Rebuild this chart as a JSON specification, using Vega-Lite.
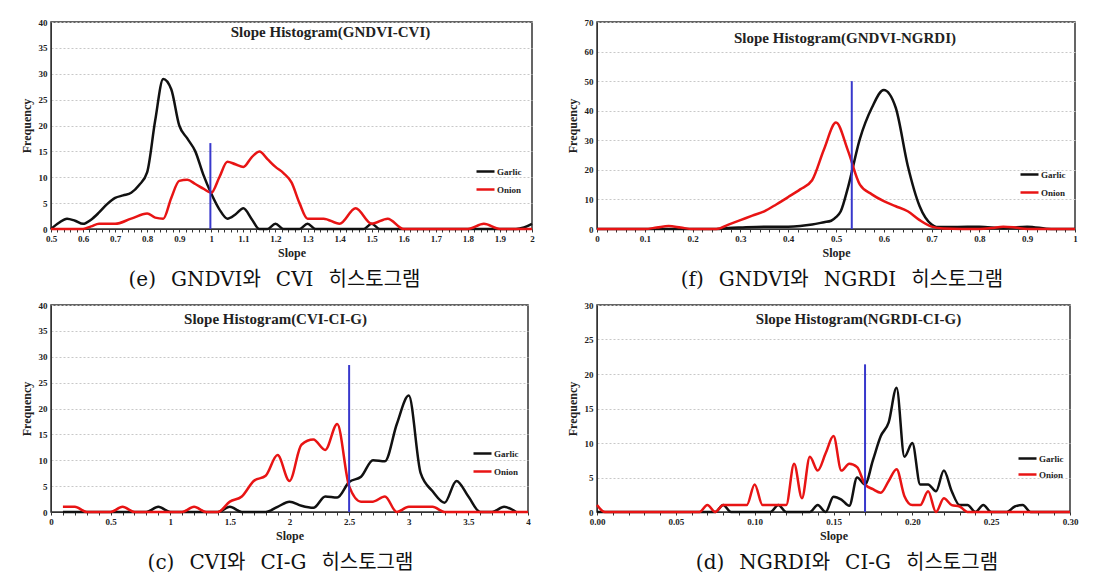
{
  "$schema": "https://vega.github.io/schema/vega-lite/v6.json",
  "background": "white",
  "padding": {"left": 19, "top": 17, "right": 5, "bottom": 5},
  "config": {
    "font": "Liberation Serif",
    "view": {"stroke": "#333333", "strokeWidth": 1.5},
    "axis": {"labelFont": "Liberation Serif, Times New Roman, serif", "labelFontWeight": "bold", "labelFontSize": 9, "labelColor": "#222222", "titleFont": "Liberation Serif, Times New Roman, serif", "titleFontWeight": "bold", "titleFontSize": 12, "titleColor": "#222222", "domainColor": "#333333", "tickColor": "#333333", "labelFlush": false, "labelOverlap": false, "tickCount": 1000},
    "axisY": {"grid": true, "gridColor": "#c8c8c8", "gridDash": [2, 2], "ticks": false, "labelPadding": 4, "titlePadding": 5, "format": "d"},
    "axisX": {"grid": false, "tickSize": 3, "labelPadding": 2, "titlePadding": 4},
    "legend": {"symbolType": "stroke", "symbolStrokeWidth": 2.5, "symbolSize": 324, "labelFont": "Liberation Serif, Times New Roman, serif", "labelFontWeight": "bold", "labelFontSize": 9, "labelColor": "#222222", "rowPadding": 2, "labelOffset": 1, "padding": 0},
    "line": {"interpolate": "monotone", "strokeWidth": 2.5, "clip": true},
    "rule": {"color": "#3838cc", "strokeWidth": 2}
  },
  "datasets": {
    "e": [
      {"crop": "Garlic", "slope": 0.5, "freq": 0}, {"crop": "Garlic", "slope": 0.525, "freq": 1.2}, {"crop": "Garlic", "slope": 0.55, "freq": 2}, {"crop": "Garlic", "slope": 0.575, "freq": 1.6}, {"crop": "Garlic", "slope": 0.6, "freq": 1}, {"crop": "Garlic", "slope": 0.625, "freq": 1.8}, {"crop": "Garlic", "slope": 0.65, "freq": 3.2}, {"crop": "Garlic", "slope": 0.675, "freq": 4.8}, {"crop": "Garlic", "slope": 0.7, "freq": 6}, {"crop": "Garlic", "slope": 0.725, "freq": 6.5}, {"crop": "Garlic", "slope": 0.75, "freq": 7}, {"crop": "Garlic", "slope": 0.775, "freq": 8.5}, {"crop": "Garlic", "slope": 0.8, "freq": 11}, {"crop": "Garlic", "slope": 0.825, "freq": 21}, {"crop": "Garlic", "slope": 0.85, "freq": 29}, {"crop": "Garlic", "slope": 0.875, "freq": 27}, {"crop": "Garlic", "slope": 0.9, "freq": 20}, {"crop": "Garlic", "slope": 0.925, "freq": 17.5}, {"crop": "Garlic", "slope": 0.95, "freq": 15}, {"crop": "Garlic", "slope": 0.975, "freq": 10.5}, {"crop": "Garlic", "slope": 1.0, "freq": 6.8}, {"crop": "Garlic", "slope": 1.025, "freq": 3.8}, {"crop": "Garlic", "slope": 1.05, "freq": 2}, {"crop": "Garlic", "slope": 1.075, "freq": 2.8}, {"crop": "Garlic", "slope": 1.1, "freq": 4}, {"crop": "Garlic", "slope": 1.125, "freq": 2}, {"crop": "Garlic", "slope": 1.15, "freq": 0}, {"crop": "Garlic", "slope": 1.175, "freq": 0}, {"crop": "Garlic", "slope": 1.2, "freq": 1}, {"crop": "Garlic", "slope": 1.225, "freq": 0}, {"crop": "Garlic", "slope": 1.275, "freq": 0}, {"crop": "Garlic", "slope": 1.3, "freq": 1}, {"crop": "Garlic", "slope": 1.325, "freq": 0}, {"crop": "Garlic", "slope": 1.475, "freq": 0}, {"crop": "Garlic", "slope": 1.5, "freq": 1}, {"crop": "Garlic", "slope": 1.525, "freq": 0}, {"crop": "Garlic", "slope": 1.95, "freq": 0}, {"crop": "Garlic", "slope": 1.975, "freq": 0.3}, {"crop": "Garlic", "slope": 2.0, "freq": 1},
      {"crop": "Onion", "slope": 0.5, "freq": 0}, {"crop": "Onion", "slope": 0.6, "freq": 0}, {"crop": "Onion", "slope": 0.625, "freq": 0.5}, {"crop": "Onion", "slope": 0.65, "freq": 1}, {"crop": "Onion", "slope": 0.7, "freq": 1}, {"crop": "Onion", "slope": 0.75, "freq": 2}, {"crop": "Onion", "slope": 0.8, "freq": 3}, {"crop": "Onion", "slope": 0.825, "freq": 2.2}, {"crop": "Onion", "slope": 0.85, "freq": 2}, {"crop": "Onion", "slope": 0.875, "freq": 6}, {"crop": "Onion", "slope": 0.9, "freq": 9.3}, {"crop": "Onion", "slope": 0.925, "freq": 9.5}, {"crop": "Onion", "slope": 0.95, "freq": 8.7}, {"crop": "Onion", "slope": 0.975, "freq": 7.8}, {"crop": "Onion", "slope": 1.0, "freq": 7}, {"crop": "Onion", "slope": 1.025, "freq": 10}, {"crop": "Onion", "slope": 1.05, "freq": 13}, {"crop": "Onion", "slope": 1.075, "freq": 12.5}, {"crop": "Onion", "slope": 1.1, "freq": 12}, {"crop": "Onion", "slope": 1.125, "freq": 13.8}, {"crop": "Onion", "slope": 1.15, "freq": 15}, {"crop": "Onion", "slope": 1.175, "freq": 13.5}, {"crop": "Onion", "slope": 1.2, "freq": 12}, {"crop": "Onion", "slope": 1.225, "freq": 10.8}, {"crop": "Onion", "slope": 1.25, "freq": 9}, {"crop": "Onion", "slope": 1.275, "freq": 5}, {"crop": "Onion", "slope": 1.3, "freq": 2}, {"crop": "Onion", "slope": 1.35, "freq": 2}, {"crop": "Onion", "slope": 1.4, "freq": 1}, {"crop": "Onion", "slope": 1.45, "freq": 4}, {"crop": "Onion", "slope": 1.5, "freq": 1}, {"crop": "Onion", "slope": 1.55, "freq": 2}, {"crop": "Onion", "slope": 1.6, "freq": 0}, {"crop": "Onion", "slope": 1.8, "freq": 0}, {"crop": "Onion", "slope": 1.85, "freq": 1}, {"crop": "Onion", "slope": 1.9, "freq": 0}, {"crop": "Onion", "slope": 2.0, "freq": 0}
    ],
    "f": [
      {"crop": "Garlic", "slope": 0, "freq": 0}, {"crop": "Garlic", "slope": 0.25, "freq": 0}, {"crop": "Garlic", "slope": 0.275, "freq": 0.3}, {"crop": "Garlic", "slope": 0.3, "freq": 0.5}, {"crop": "Garlic", "slope": 0.35, "freq": 0.8}, {"crop": "Garlic", "slope": 0.4, "freq": 0.8}, {"crop": "Garlic", "slope": 0.425, "freq": 1}, {"crop": "Garlic", "slope": 0.45, "freq": 1.5}, {"crop": "Garlic", "slope": 0.475, "freq": 2.3}, {"crop": "Garlic", "slope": 0.49, "freq": 2.8}, {"crop": "Garlic", "slope": 0.5, "freq": 4}, {"crop": "Garlic", "slope": 0.51, "freq": 6}, {"crop": "Garlic", "slope": 0.525, "freq": 14}, {"crop": "Garlic", "slope": 0.55, "freq": 30.5}, {"crop": "Garlic", "slope": 0.575, "freq": 41}, {"crop": "Garlic", "slope": 0.6, "freq": 47}, {"crop": "Garlic", "slope": 0.625, "freq": 41}, {"crop": "Garlic", "slope": 0.65, "freq": 21.5}, {"crop": "Garlic", "slope": 0.675, "freq": 7.7}, {"crop": "Garlic", "slope": 0.7, "freq": 1.5}, {"crop": "Garlic", "slope": 0.71, "freq": 0.7}, {"crop": "Garlic", "slope": 0.75, "freq": 0.7}, {"crop": "Garlic", "slope": 0.8, "freq": 0.8}, {"crop": "Garlic", "slope": 0.85, "freq": 0.3}, {"crop": "Garlic", "slope": 0.9, "freq": 0.8}, {"crop": "Garlic", "slope": 0.95, "freq": 0}, {"crop": "Garlic", "slope": 1, "freq": 0},
      {"crop": "Onion", "slope": 0, "freq": 0}, {"crop": "Onion", "slope": 0.1, "freq": 0}, {"crop": "Onion", "slope": 0.125, "freq": 0.5}, {"crop": "Onion", "slope": 0.15, "freq": 1}, {"crop": "Onion", "slope": 0.175, "freq": 0.5}, {"crop": "Onion", "slope": 0.2, "freq": 0}, {"crop": "Onion", "slope": 0.25, "freq": 0}, {"crop": "Onion", "slope": 0.275, "freq": 1.5}, {"crop": "Onion", "slope": 0.3, "freq": 3}, {"crop": "Onion", "slope": 0.325, "freq": 4.5}, {"crop": "Onion", "slope": 0.35, "freq": 6}, {"crop": "Onion", "slope": 0.375, "freq": 8.3}, {"crop": "Onion", "slope": 0.4, "freq": 10.8}, {"crop": "Onion", "slope": 0.425, "freq": 13.4}, {"crop": "Onion", "slope": 0.45, "freq": 16.5}, {"crop": "Onion", "slope": 0.475, "freq": 27}, {"crop": "Onion", "slope": 0.5, "freq": 36}, {"crop": "Onion", "slope": 0.525, "freq": 26.5}, {"crop": "Onion", "slope": 0.55, "freq": 15}, {"crop": "Onion", "slope": 0.575, "freq": 11.7}, {"crop": "Onion", "slope": 0.6, "freq": 9.4}, {"crop": "Onion", "slope": 0.625, "freq": 7.7}, {"crop": "Onion", "slope": 0.65, "freq": 6}, {"crop": "Onion", "slope": 0.675, "freq": 3}, {"crop": "Onion", "slope": 0.7, "freq": 0.8}, {"crop": "Onion", "slope": 0.725, "freq": 0.2}, {"crop": "Onion", "slope": 0.8, "freq": 0}, {"crop": "Onion", "slope": 0.825, "freq": 0.3}, {"crop": "Onion", "slope": 0.85, "freq": 0.8}, {"crop": "Onion", "slope": 0.875, "freq": 0.5}, {"crop": "Onion", "slope": 0.9, "freq": 0}, {"crop": "Onion", "slope": 1, "freq": 0}
    ],
    "c": [
      {"crop": "Garlic", "slope": 0.1, "freq": 0}, {"crop": "Garlic", "slope": 0.8, "freq": 0}, {"crop": "Garlic", "slope": 0.9, "freq": 1}, {"crop": "Garlic", "slope": 1.0, "freq": 0}, {"crop": "Garlic", "slope": 1.4, "freq": 0}, {"crop": "Garlic", "slope": 1.5, "freq": 1}, {"crop": "Garlic", "slope": 1.6, "freq": 0}, {"crop": "Garlic", "slope": 1.8, "freq": 0}, {"crop": "Garlic", "slope": 1.9, "freq": 1}, {"crop": "Garlic", "slope": 2.0, "freq": 2}, {"crop": "Garlic", "slope": 2.1, "freq": 1.2}, {"crop": "Garlic", "slope": 2.2, "freq": 0.8}, {"crop": "Garlic", "slope": 2.3, "freq": 3}, {"crop": "Garlic", "slope": 2.4, "freq": 2.8}, {"crop": "Garlic", "slope": 2.5, "freq": 5.8}, {"crop": "Garlic", "slope": 2.6, "freq": 6.8}, {"crop": "Garlic", "slope": 2.7, "freq": 10}, {"crop": "Garlic", "slope": 2.8, "freq": 9.8}, {"crop": "Garlic", "slope": 2.9, "freq": 17}, {"crop": "Garlic", "slope": 3.0, "freq": 22.5}, {"crop": "Garlic", "slope": 3.1, "freq": 7.5}, {"crop": "Garlic", "slope": 3.2, "freq": 4}, {"crop": "Garlic", "slope": 3.3, "freq": 1.8}, {"crop": "Garlic", "slope": 3.4, "freq": 6}, {"crop": "Garlic", "slope": 3.5, "freq": 3}, {"crop": "Garlic", "slope": 3.6, "freq": 0}, {"crop": "Garlic", "slope": 3.7, "freq": 0}, {"crop": "Garlic", "slope": 3.8, "freq": 1}, {"crop": "Garlic", "slope": 3.9, "freq": 0},
      {"crop": "Onion", "slope": 0.1, "freq": 1}, {"crop": "Onion", "slope": 0.2, "freq": 1}, {"crop": "Onion", "slope": 0.3, "freq": 0}, {"crop": "Onion", "slope": 0.5, "freq": 0}, {"crop": "Onion", "slope": 0.6, "freq": 1}, {"crop": "Onion", "slope": 0.7, "freq": 0}, {"crop": "Onion", "slope": 1.1, "freq": 0}, {"crop": "Onion", "slope": 1.2, "freq": 1}, {"crop": "Onion", "slope": 1.3, "freq": 0}, {"crop": "Onion", "slope": 1.4, "freq": 0}, {"crop": "Onion", "slope": 1.5, "freq": 2}, {"crop": "Onion", "slope": 1.6, "freq": 3}, {"crop": "Onion", "slope": 1.7, "freq": 6}, {"crop": "Onion", "slope": 1.8, "freq": 7}, {"crop": "Onion", "slope": 1.9, "freq": 11}, {"crop": "Onion", "slope": 2.0, "freq": 6}, {"crop": "Onion", "slope": 2.1, "freq": 13}, {"crop": "Onion", "slope": 2.2, "freq": 14}, {"crop": "Onion", "slope": 2.3, "freq": 12}, {"crop": "Onion", "slope": 2.4, "freq": 17}, {"crop": "Onion", "slope": 2.5, "freq": 5}, {"crop": "Onion", "slope": 2.6, "freq": 2}, {"crop": "Onion", "slope": 2.7, "freq": 2}, {"crop": "Onion", "slope": 2.8, "freq": 3}, {"crop": "Onion", "slope": 2.9, "freq": 0}, {"crop": "Onion", "slope": 3.0, "freq": 1}, {"crop": "Onion", "slope": 3.1, "freq": 1}, {"crop": "Onion", "slope": 3.2, "freq": 1}, {"crop": "Onion", "slope": 3.3, "freq": 0}, {"crop": "Onion", "slope": 4.0, "freq": 0}
    ],
    "d": [
      {"crop": "Garlic", "slope": 0, "freq": 0}, {"crop": "Garlic", "slope": 0.075, "freq": 0}, {"crop": "Garlic", "slope": 0.08, "freq": 1}, {"crop": "Garlic", "slope": 0.085, "freq": 0}, {"crop": "Garlic", "slope": 0.11, "freq": 0}, {"crop": "Garlic", "slope": 0.115, "freq": 1}, {"crop": "Garlic", "slope": 0.12, "freq": 0}, {"crop": "Garlic", "slope": 0.135, "freq": 0}, {"crop": "Garlic", "slope": 0.14, "freq": 1}, {"crop": "Garlic", "slope": 0.145, "freq": 0}, {"crop": "Garlic", "slope": 0.15, "freq": 2.2}, {"crop": "Garlic", "slope": 0.155, "freq": 1.8}, {"crop": "Garlic", "slope": 0.16, "freq": 0.9}, {"crop": "Garlic", "slope": 0.165, "freq": 5}, {"crop": "Garlic", "slope": 0.17, "freq": 4}, {"crop": "Garlic", "slope": 0.175, "freq": 7.5}, {"crop": "Garlic", "slope": 0.18, "freq": 11}, {"crop": "Garlic", "slope": 0.185, "freq": 13}, {"crop": "Garlic", "slope": 0.19, "freq": 18}, {"crop": "Garlic", "slope": 0.195, "freq": 8}, {"crop": "Garlic", "slope": 0.2, "freq": 10}, {"crop": "Garlic", "slope": 0.205, "freq": 4}, {"crop": "Garlic", "slope": 0.21, "freq": 4}, {"crop": "Garlic", "slope": 0.215, "freq": 3}, {"crop": "Garlic", "slope": 0.22, "freq": 6}, {"crop": "Garlic", "slope": 0.225, "freq": 3}, {"crop": "Garlic", "slope": 0.23, "freq": 1}, {"crop": "Garlic", "slope": 0.235, "freq": 1}, {"crop": "Garlic", "slope": 0.24, "freq": 0}, {"crop": "Garlic", "slope": 0.245, "freq": 1}, {"crop": "Garlic", "slope": 0.25, "freq": 0}, {"crop": "Garlic", "slope": 0.26, "freq": 0}, {"crop": "Garlic", "slope": 0.265, "freq": 0.8}, {"crop": "Garlic", "slope": 0.27, "freq": 1}, {"crop": "Garlic", "slope": 0.275, "freq": 0}, {"crop": "Garlic", "slope": 0.3, "freq": 0},
      {"crop": "Onion", "slope": 0, "freq": 1}, {"crop": "Onion", "slope": 0.005, "freq": 0}, {"crop": "Onion", "slope": 0.065, "freq": 0}, {"crop": "Onion", "slope": 0.07, "freq": 1}, {"crop": "Onion", "slope": 0.075, "freq": 0}, {"crop": "Onion", "slope": 0.08, "freq": 1}, {"crop": "Onion", "slope": 0.085, "freq": 1}, {"crop": "Onion", "slope": 0.09, "freq": 1}, {"crop": "Onion", "slope": 0.095, "freq": 1}, {"crop": "Onion", "slope": 0.1, "freq": 4}, {"crop": "Onion", "slope": 0.105, "freq": 1}, {"crop": "Onion", "slope": 0.11, "freq": 1}, {"crop": "Onion", "slope": 0.115, "freq": 1}, {"crop": "Onion", "slope": 0.12, "freq": 1}, {"crop": "Onion", "slope": 0.125, "freq": 7}, {"crop": "Onion", "slope": 0.13, "freq": 2}, {"crop": "Onion", "slope": 0.135, "freq": 8}, {"crop": "Onion", "slope": 0.14, "freq": 6}, {"crop": "Onion", "slope": 0.145, "freq": 8.5}, {"crop": "Onion", "slope": 0.15, "freq": 11}, {"crop": "Onion", "slope": 0.155, "freq": 6}, {"crop": "Onion", "slope": 0.16, "freq": 7}, {"crop": "Onion", "slope": 0.165, "freq": 6.5}, {"crop": "Onion", "slope": 0.17, "freq": 4}, {"crop": "Onion", "slope": 0.175, "freq": 3.3}, {"crop": "Onion", "slope": 0.18, "freq": 2.8}, {"crop": "Onion", "slope": 0.185, "freq": 4.5}, {"crop": "Onion", "slope": 0.19, "freq": 6.2}, {"crop": "Onion", "slope": 0.195, "freq": 2.3}, {"crop": "Onion", "slope": 0.2, "freq": 1}, {"crop": "Onion", "slope": 0.205, "freq": 1}, {"crop": "Onion", "slope": 0.21, "freq": 3}, {"crop": "Onion", "slope": 0.215, "freq": 0}, {"crop": "Onion", "slope": 0.22, "freq": 2}, {"crop": "Onion", "slope": 0.225, "freq": 1}, {"crop": "Onion", "slope": 0.23, "freq": 0.8}, {"crop": "Onion", "slope": 0.235, "freq": 0}, {"crop": "Onion", "slope": 0.3, "freq": 0}
    ],
    "cut_e": [{"slope": 0.997, "low": 0, "high": 16.6}],
    "cut_f": [{"slope": 0.533, "low": 0, "high": 50}],
    "cut_c": [{"slope": 2.5, "low": 0, "high": 28.4}],
    "cut_d": [{"slope": 0.17, "low": 0, "high": 21.4}]
  },
  "resolve": {"scale": {"color": "independent"}, "legend": {"color": "independent"}},
  "vconcat": [
    {
      "spacing": 27,
      "resolve": {"scale": {"color": "independent"}, "legend": {"color": "independent"}},
      "hconcat": [
        {
          "title": {"text": "(e)\u2002\u2005GNDVI와\u2002\u2005CVI\u2002\u2005히스토그램", "orient": "bottom", "anchor": "middle", "offset": 11, "dx": -4, "font": "DejaVu Serif, Noto Sans CJK KR", "fontSize": 20, "fontWeight": "normal", "color": "#111111"},
          "vconcat": [
            {
              "width": 481, "height": 207,
              "title": {"text": "Slope Histogram(GNDVI-CVI)", "orient": "top", "anchor": "middle", "frame": "group", "offset": -22, "dx": 39, "font": "Liberation Serif, Times New Roman, serif", "fontSize": 15, "fontWeight": "bold", "color": "#222222"},
              "layer": [
                {
                  "data": {"name": "e"},
                  "mark": {"type": "line"},
                  "encoding": {
                    "x": {"field": "slope", "type": "quantitative", "scale": {"domain": [0.5, 2], "nice": false, "zero": false}, "axis": {"title": "Slope", "values": [0.5,0.52,0.54,0.56,0.58,0.6,0.62,0.64,0.66,0.68,0.7,0.72,0.74,0.76,0.78,0.8,0.82,0.84,0.86,0.88,0.9,0.92,0.94,0.96,0.98,1,1.02,1.04,1.06,1.08,1.1,1.12,1.14,1.16,1.18,1.2,1.22,1.24,1.26,1.28,1.3,1.32,1.34,1.36,1.38,1.4,1.42,1.44,1.46,1.48,1.5,1.52,1.54,1.56,1.58,1.6,1.62,1.64,1.66,1.68,1.7,1.72,1.74,1.76,1.78,1.8,1.82,1.84,1.86,1.88,1.9,1.92,1.94,1.96,1.98,2], "labelExpr": "abs(datum.value*10 - round(datum.value*10)) < 0.001 ? format(datum.value, '~g') : ''"}},
                    "y": {"field": "freq", "type": "quantitative", "scale": {"domain": [0, 40], "nice": false}, "axis": {"title": "Frequency", "values": [0,5,10,15,20,25,30,35,40], "format": "d"}},
                    "color": {"field": "crop", "type": "nominal", "scale": {"domain": ["Garlic", "Onion"], "range": ["#111111", "#e81414"]}, "legend": {"orient": "none", "legendX": 424, "legendY": 139, "title": null}}
                  }
                },
                {
                  "data": {"name": "cut_e"},
                  "mark": {"type": "rule"},
                  "encoding": {"x": {"field": "slope", "type": "quantitative"}, "y": {"field": "low", "type": "quantitative"}, "y2": {"field": "high"}}
                }
              ]
            }
          ]
        },
        {
          "title": {"text": "(f)\u2002\u2005GNDVI와\u2002\u2005NGRDI\u2002\u2005히스토그램", "orient": "bottom", "anchor": "middle", "offset": 11, "dx": 19, "font": "DejaVu Serif, Noto Sans CJK KR", "fontSize": 20, "fontWeight": "normal", "color": "#111111"},
          "vconcat": [
            {
              "width": 478, "height": 207,
              "title": {"text": "Slope Histogram(GNDVI-NGRDI)", "orient": "top", "anchor": "middle", "frame": "group", "offset": -28, "dx": 9, "font": "Liberation Serif, Times New Roman, serif", "fontSize": 15, "fontWeight": "bold", "color": "#222222"},
              "layer": [
                {
                  "data": {"name": "f"},
                  "mark": {"type": "line"},
                  "encoding": {
                    "x": {"field": "slope", "type": "quantitative", "scale": {"domain": [0, 1], "nice": false, "zero": false}, "axis": {"title": "Slope", "values": [0,0.02,0.04,0.06,0.08,0.1,0.12,0.14,0.16,0.18,0.2,0.22,0.24,0.26,0.28,0.3,0.32,0.34,0.36,0.38,0.4,0.42,0.44,0.46,0.48,0.5,0.52,0.54,0.56,0.58,0.6,0.62,0.64,0.66,0.68,0.7,0.72,0.74,0.76,0.78,0.8,0.82,0.84,0.86,0.88,0.9,0.92,0.94,0.96,0.98,1], "labelExpr": "abs(datum.value*10 - round(datum.value*10)) < 0.001 ? format(datum.value, '~g') : ''"}},
                    "y": {"field": "freq", "type": "quantitative", "scale": {"domain": [0, 70], "nice": false}, "axis": {"title": "Frequency", "values": [0,10,20,30,40,50,60,70], "format": "d"}},
                    "color": {"field": "crop", "type": "nominal", "scale": {"domain": ["Garlic", "Onion"], "range": ["#111111", "#e81414"]}, "legend": {"orient": "none", "legendX": 422, "legendY": 142, "title": null}}
                  }
                },
                {
                  "data": {"name": "cut_f"},
                  "mark": {"type": "rule"},
                  "encoding": {"x": {"field": "slope", "type": "quantitative"}, "y": {"field": "low", "type": "quantitative"}, "y2": {"field": "high"}}
                }
              ]
            }
          ]
        }
      ]
    },
    {
      "spacing": 31,
      "resolve": {"scale": {"color": "independent"}, "legend": {"color": "independent"}},
      "hconcat": [
        {
          "title": {"text": "(c)\u2002\u2005CVI와\u2002\u2005CI-G\u2002\u2005히스토그램", "orient": "bottom", "anchor": "middle", "offset": 11, "dx": 4, "font": "DejaVu Serif, Noto Sans CJK KR", "fontSize": 20, "fontWeight": "normal", "color": "#111111"},
          "vconcat": [
            {
              "width": 477, "height": 207,
              "title": {"text": "Slope Histogram(CVI-CI-G)", "orient": "top", "anchor": "middle", "frame": "group", "offset": -26, "dx": -14, "font": "Liberation Serif, Times New Roman, serif", "fontSize": 15, "fontWeight": "bold", "color": "#222222"},
              "layer": [
                {
                  "data": {"name": "c"},
                  "mark": {"type": "line"},
                  "encoding": {
                    "x": {"field": "slope", "type": "quantitative", "scale": {"domain": [0, 4], "nice": false, "zero": false}, "axis": {"title": "Slope", "values": [0,0.1,0.2,0.3,0.4,0.5,0.6,0.7,0.8,0.9,1,1.1,1.2,1.3,1.4,1.5,1.6,1.7,1.8,1.9,2,2.1,2.2,2.3,2.4,2.5,2.6,2.7,2.8,2.9,3,3.1,3.2,3.3,3.4,3.5,3.6,3.7,3.8,3.9,4], "labelExpr": "abs(datum.value*2 - round(datum.value*2)) < 0.001 ? format(datum.value, '~g') : ''"}},
                    "y": {"field": "freq", "type": "quantitative", "scale": {"domain": [0, 40], "nice": false}, "axis": {"title": "Frequency", "values": [0,5,10,15,20,25,30,35,40], "format": "d"}},
                    "color": {"field": "crop", "type": "nominal", "scale": {"domain": ["Garlic", "Onion"], "range": ["#111111", "#e81414"]}, "legend": {"orient": "none", "legendX": 421, "legendY": 138, "title": null}}
                  }
                },
                {
                  "data": {"name": "cut_c"},
                  "mark": {"type": "rule"},
                  "encoding": {"x": {"field": "slope", "type": "quantitative"}, "y": {"field": "low", "type": "quantitative"}, "y2": {"field": "high"}}
                }
              ]
            }
          ]
        },
        {
          "title": {"text": "(d)\u2002\u2005NGRDI와\u2002\u2005CI-G\u2002\u2005히스토그램", "orient": "bottom", "anchor": "middle", "offset": 11, "dx": 25, "font": "DejaVu Serif, Noto Sans CJK KR", "fontSize": 20, "fontWeight": "normal", "color": "#111111"},
          "vconcat": [
            {
              "width": 473, "height": 207,
              "title": {"text": "Slope Histogram(NGRDI-CI-G)", "orient": "top", "anchor": "middle", "frame": "group", "offset": -26, "dx": 25, "font": "Liberation Serif, Times New Roman, serif", "fontSize": 15, "fontWeight": "bold", "color": "#222222"},
              "layer": [
                {
                  "data": {"name": "d"},
                  "mark": {"type": "line"},
                  "encoding": {
                    "x": {"field": "slope", "type": "quantitative", "scale": {"domain": [0, 0.3], "nice": false, "zero": false}, "axis": {"title": "Slope", "values": [0,0.01,0.02,0.03,0.04,0.05,0.06,0.07,0.08,0.09,0.1,0.11,0.12,0.13,0.14,0.15,0.16,0.17,0.18,0.19,0.2,0.21,0.22,0.23,0.24,0.25,0.26,0.27,0.28,0.29,0.3], "labelExpr": "abs(datum.value*20 - round(datum.value*20)) < 0.001 ? format(datum.value, '.2f') : ''"}},
                    "y": {"field": "freq", "type": "quantitative", "scale": {"domain": [0, 30], "nice": false}, "axis": {"title": "Frequency", "values": [0,5,10,15,20,25,30], "format": "d"}},
                    "color": {"field": "crop", "type": "nominal", "scale": {"domain": ["Garlic", "Onion"], "range": ["#111111", "#e81414"]}, "legend": {"orient": "none", "legendX": 420, "legendY": 143, "title": null, "rowPadding": -2}}
                  }
                },
                {
                  "data": {"name": "cut_d"},
                  "mark": {"type": "rule"},
                  "encoding": {"x": {"field": "slope", "type": "quantitative"}, "y": {"field": "low", "type": "quantitative"}, "y2": {"field": "high"}}
                }
              ]
            }
          ]
        }
      ]
    }
  ],
  "spacing": 10
}
